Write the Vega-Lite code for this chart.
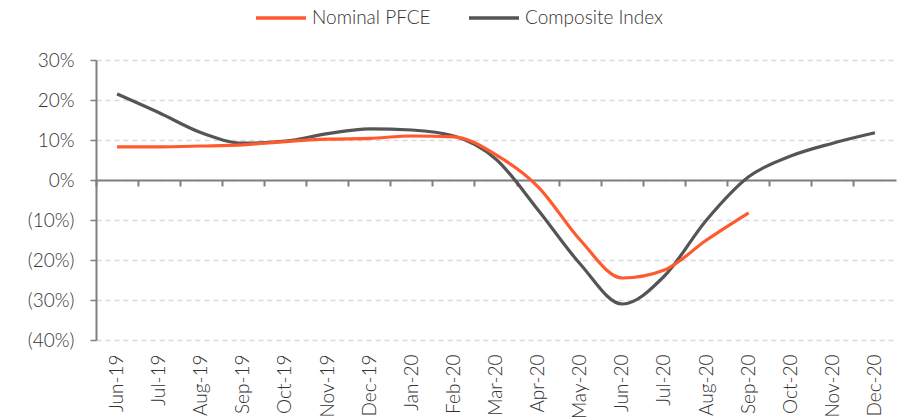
{
  "$schema": "https://vega.github.io/schema/vega-lite/v6.json",
  "autosize": "none",
  "width": 800,
  "height": 280,
  "padding": {"left": 96, "top": 60, "right": 18, "bottom": 79},
  "background": "white",
  "config": {
    "view": {"stroke": null},
    "font": "Lato",
    "axis": {"labelFont": "Lato", "labelColor": "#333333", "labelFontWeight": 300},
    "axisY": {
      "title": null, "values": [-40, -30, -20, -10, 0, 10, 20, 30], "tickCount": 8,
      "labelExpr": "datum.value < 0 ? '(' + (-datum.value) + '%)' : datum.value + '%'",
      "labelFontSize": 19, "labelPadding": 16, "labelColor": "#333333", "labelOverlap": false,
      "domain": true, "domainColor": "#7f7f7f", "domainWidth": 2,
      "ticks": true, "tickColor": "#7f7f7f", "tickSize": 6, "tickWidth": 1.5,
      "grid": true, "gridColor": "#d9d9d9", "gridDash": [5, 4], "gridWidth": 1.5
    }
  },
  "data": {
    "values": [
      {"month": "Jun-19", "series": "Composite Index", "value": 21.5},
      {"month": "Jul-19", "series": "Composite Index", "value": 16.8},
      {"month": "Aug-19", "series": "Composite Index", "value": 11.8},
      {"month": "Sep-19", "series": "Composite Index", "value": 9.2},
      {"month": "Oct-19", "series": "Composite Index", "value": 9.7},
      {"month": "Nov-19", "series": "Composite Index", "value": 11.6},
      {"month": "Dec-19", "series": "Composite Index", "value": 12.8},
      {"month": "Jan-20", "series": "Composite Index", "value": 12.5},
      {"month": "Feb-20", "series": "Composite Index", "value": 11.0},
      {"month": "Mar-20", "series": "Composite Index", "value": 5.2},
      {"month": "Apr-20", "series": "Composite Index", "value": -7.5},
      {"month": "May-20", "series": "Composite Index", "value": -21.0},
      {"month": "Jun-20", "series": "Composite Index", "value": -31.0},
      {"month": "Jul-20", "series": "Composite Index", "value": -24.0},
      {"month": "Aug-20", "series": "Composite Index", "value": -10.0},
      {"month": "Sep-20", "series": "Composite Index", "value": 0.8},
      {"month": "Oct-20", "series": "Composite Index", "value": 6.0},
      {"month": "Nov-20", "series": "Composite Index", "value": 9.2},
      {"month": "Dec-20", "series": "Composite Index", "value": 11.8},
      {"month": "Jun-19", "series": "Nominal PFCE", "value": 8.3},
      {"month": "Jul-19", "series": "Nominal PFCE", "value": 8.3},
      {"month": "Aug-19", "series": "Nominal PFCE", "value": 8.5},
      {"month": "Sep-19", "series": "Nominal PFCE", "value": 8.8},
      {"month": "Oct-19", "series": "Nominal PFCE", "value": 9.6},
      {"month": "Nov-19", "series": "Nominal PFCE", "value": 10.2},
      {"month": "Dec-19", "series": "Nominal PFCE", "value": 10.4},
      {"month": "Jan-20", "series": "Nominal PFCE", "value": 11.0},
      {"month": "Feb-20", "series": "Nominal PFCE", "value": 10.8},
      {"month": "Mar-20", "series": "Nominal PFCE", "value": 6.3},
      {"month": "Apr-20", "series": "Nominal PFCE", "value": -1.7},
      {"month": "May-20", "series": "Nominal PFCE", "value": -15.0},
      {"month": "Jun-20", "series": "Nominal PFCE", "value": -24.5},
      {"month": "Jul-20", "series": "Nominal PFCE", "value": -22.5},
      {"month": "Aug-20", "series": "Nominal PFCE", "value": -15.0},
      {"month": "Sep-20", "series": "Nominal PFCE", "value": -8.2}
    ]
  },
  "resolve": {"axis": {"x": "independent"}, "scale": {"x": "shared"}},
  "layer": [
    {
      "mark": {"type": "line", "opacity": 0},
      "encoding": {
        "x": {
          "field": "month", "type": "ordinal", "sort": null,
          "scale": {"type": "band", "paddingInner": 0, "paddingOuter": 0},
          "axis": {
            "orient": "bottom", "offset": -160, "title": null, "labels": false,
            "grid": false, "domain": true, "domainColor": "#7f7f7f", "domainWidth": 2,
            "ticks": true, "tickColor": "#7f7f7f", "tickWidth": 2, "tickSize": 6, "bandPosition": 0
          }
        },
        "y": {
          "field": "value", "type": "quantitative",
          "scale": {"domain": [-40, 30]}
        },
        "detail": {"field": "series"}
      }
    },
    {
      "mark": {"type": "line", "interpolate": "monotone", "strokeWidth": 3.2},
      "encoding": {
        "x": {
          "field": "month", "type": "ordinal", "sort": null,
          "axis": {
            "orient": "bottom", "title": null, "domain": false, "ticks": false, "grid": false,
            "labelAngle": -90, "labelFontSize": 19, "labelPadding": 14, "labelColor": "#333333", "labelOverlap": false
          }
        },
        "y": {
          "field": "value", "type": "quantitative",
          "scale": {"domain": [-40, 30]}
        },
        "color": {
          "field": "series", "type": "nominal",
          "scale": {"domain": ["Nominal PFCE", "Composite Index"], "range": ["#ff5a2e", "#555555"]},
          "legend": {
            "title": null, "orient": "none", "direction": "horizontal",
            "legendX": 158, "legendY": -69, "padding": 0,
            "symbolType": "stroke", "symbolSize": 2500, "symbolStrokeWidth": 3.5,
            "labelFontSize": 19, "labelFontWeight": 300, "labelColor": "#333333", "labelOffset": 4, "columnPadding": 31
          }
        }
      }
    }
  ]
}
